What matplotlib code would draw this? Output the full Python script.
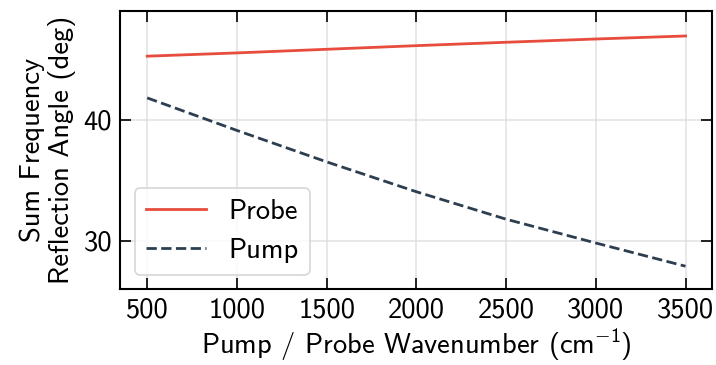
import numpy as np
import matplotlib
matplotlib.use("Agg")
import matplotlib.pyplot as plt

# wavenumber grid (cm^-1) and reflection angles
wavenumber = [500, 1000, 1500, 2000, 2500, 3000, 3500]
probe_angle = [45.26, 45.53, 45.83, 46.13, 46.41, 46.68, 46.93]
pump_angle = [41.81, 39.12, 36.52, 34.05, 31.78, 29.81, 27.89]

plt.rcParams["font.family"] = ["cmss10", "DejaVu Sans"]
plt.rcParams["mathtext.fontset"] = "custom"
plt.rcParams["mathtext.rm"] = "cmss10"
plt.rcParams["mathtext.sf"] = "cmss10"
plt.rcParams["axes.unicode_minus"] = False
plt.rcParams["axes.formatter.use_mathtext"] = False

fs = 20.5

fig, ax = plt.subplots(figsize=(7.16, 3.65), dpi=100)
fig.subplots_adjust(left=0.168, right=0.995, top=0.97, bottom=0.208)

ax.plot(wavenumber, probe_angle, color="#E74C3C", lw=2.0, label="Probe")
ax.plot(wavenumber, pump_angle, color="#2C3E50", lw=2.0, ls="--", label="Pump")

ax.set_xlim(350, 3650)
ax.set_ylim(26, 49)
ax.set_xticks([500, 1000, 1500, 2000, 2500, 3000, 3500])
ax.set_yticks([30, 40])

ax.grid(True, color="#d9d9d9", lw=1.2, alpha=0.7)
ax.tick_params(direction="in", top=True, right=True, length=8, width=1.2,
               labelsize=fs, pad=6)
for spine in ax.spines.values():
    spine.set_linewidth(1.5)

ax.set_xlabel("Pump / Probe Wavenumber (cm$^{-1}$)", fontsize=fs, labelpad=3)
ax.set_ylabel("Sum Frequency\nReflection Angle (deg)", fontsize=fs,
              linespacing=1.15, labelpad=5)

leg = ax.legend(loc="lower left", fontsize=fs, handlelength=2.1,
                borderaxespad=0.5, fancybox=True)
leg.get_frame().set_edgecolor("#cccccc")
leg.get_frame().set_linewidth(1.2)

fig.savefig("out.png", dpi=100)
